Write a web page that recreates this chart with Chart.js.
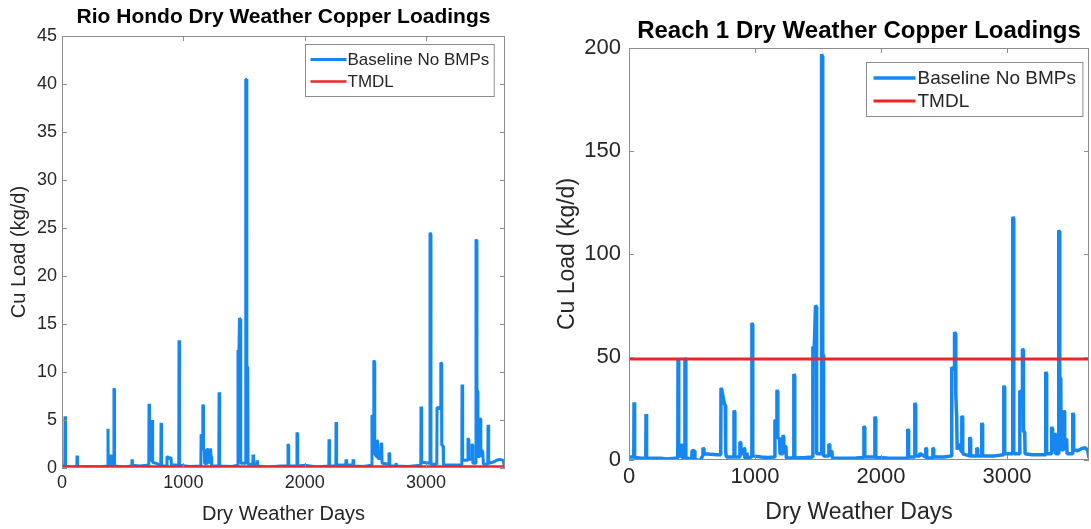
<!DOCTYPE html>
<html>
<head>
<meta charset="utf-8">
<title>Dry Weather Copper Loadings</title>
<script src="https://cdn.jsdelivr.net/npm/chart.js@4.4.1/dist/chart.umd.min.js"></script>
<style>
  html, body { margin: 0; padding: 0; background: #fff; overflow: hidden; }
  .panel { position: absolute; top: 0; height: 529px; }
  #rioPanel { left: 0; width: 512px; }
  #reachPanel { left: 540px; width: 551px; }
</style>
</head>
<body>
<div class="panel" id="rioPanel"><canvas id="rioChart"></canvas></div>
<div class="panel" id="reachPanel"><canvas id="reachChart"></canvas></div>
<script>
const dayRange = [0, 3650];
const dayTicks = [0, 1000, 2000, 3000];
const seriesNames = ['Baseline No BMPs', 'TMDL'];

// Rio Hondo, Cu load (kg/d)
const rioDays = [
    0, 23, 25, 28, 30, 60, 122, 124, 127, 129, 200, 290,
    377, 379, 381, 402, 404, 406, 426, 428, 431, 433, 500,
    575, 577, 580, 640, 700, 715, 717, 720, 723, 740, 742, 746, 748, 770,
    814, 816, 819, 821, 863, 865, 885, 898, 902, 962, 964, 968, 970, 1050,
    1144, 1146, 1158, 1160, 1164, 1166, 1172, 1175, 1193, 1195, 1203, 1206,
    1218, 1220, 1225, 1228, 1232, 1235, 1292, 1294, 1298, 1300, 1400,
    1448, 1450, 1458, 1462, 1470, 1473, 1512, 1514, 1520, 1523, 1530, 1533,
    1572, 1574, 1577, 1580, 1604, 1607, 1610, 1613, 1700, 1800,
    1860, 1862, 1865, 1868, 1934, 1936, 1939, 1942, 2000, 2100,
    2198, 2200, 2203, 2206, 2256, 2258, 2261, 2264, 2338, 2340, 2344, 2347,
    2396, 2398, 2402, 2405, 2480, 2552, 2554, 2566, 2569, 2574, 2577, 2590,
    2594, 2600, 2604, 2626, 2629, 2634, 2637, 2692, 2694, 2698, 2701,
    2750, 2752, 2755, 2850, 2956, 2958, 2962, 2965, 3030, 3032, 3037, 3040,
    3088, 3090, 3118, 3121, 3126, 3129, 3140, 3143, 3200,
    3294, 3296, 3300, 3303, 3343, 3345, 3349, 3352, 3376, 3378, 3382, 3385,
    3409, 3411, 3416, 3419, 3424, 3427, 3442, 3444, 3448, 3451, 3466, 3472,
    3508, 3510, 3514, 3517, 3550, 3580, 3610, 3635, 3645
];
const rioLoads = [
    0.2, 0.2, 5.4, 5.3, 0.2, 0.1, 0.1, 1.3, 1.2, 0.1, 0.15, 0.1,
    0.2, 4.1, 0.3, 0.3, 1.4, 0.3, 0.3, 8.3, 8.2, 0.2, 0.1,
    0.2, 0.9, 0.3, 0.2, 0.3, 0.3, 6.7, 6.6, 0.8, 0.8, 5.0, 5.0, 0.6, 0.5,
    0.3, 4.7, 4.6, 0.2, 0.2, 1.2, 1.0, 1.1, 0.3, 0.3, 13.3, 13.2, 0.3, 0.15,
    0.2, 3.5, 3.3, 6.6, 6.5, 1.9, 1.9, 0.5, 0.4, 2.0, 1.9, 0.6,
    0.6, 2.0, 1.9, 1.2, 1.1, 0.2, 0.2, 7.9, 7.8, 0.2, 0.15,
    0.3, 12.3, 12.3, 15.6, 15.5, 0.5, 0.5, 40.5, 40.5, 10.6, 10.5, 0.4,
    0.4, 1.4, 1.3, 0.3, 0.3, 0.8, 0.7, 0.2, 0.1, 0.2,
    0.2, 2.5, 2.4, 0.2, 0.2, 3.7, 3.6, 0.2, 0.3, 0.1,
    0.2, 3.0, 2.9, 0.2, 0.2, 4.8, 4.7, 0.3, 0.3, 0.9, 0.8, 0.3,
    0.3, 0.9, 0.8, 0.2, 0.15, 0.3, 5.5, 5.4, 11.2, 11.1, 1.5, 1.2,
    2.9, 2.8, 1.0, 1.0, 2.6, 2.5, 0.5, 0.4, 1.6, 1.5, 0.2,
    0.2, 0.5, 0.2, 0.15, 0.3, 6.4, 6.3, 0.6, 0.5, 24.5, 24.4, 0.4,
    0.4, 6.3, 6.2, 11.0, 10.9, 2.4, 2.3, 0.3, 0.3,
    0.3, 8.7, 8.6, 0.8, 0.8, 3.1, 3.0, 0.9, 0.9, 2.5, 2.4, 0.5,
    0.5, 23.8, 23.7, 8.2, 8.0, 1.2, 1.2, 5.2, 5.1, 1.8, 1.8, 0.4,
    0.4, 4.5, 4.4, 0.5, 0.6, 0.8, 0.9, 0.8, 0.2
];
const rioTmdl = 0.15;
const rioLoadTicks = [0, 5, 10, 15, 20, 25, 30, 35, 40, 45];

// Reach 1, Cu load (kg/d)
const reachDays = [
    0, 38, 40, 43, 46, 100, 133, 135, 138, 141, 250, 300,
    387, 389, 393, 396, 418, 420, 423, 425, 442, 444, 448, 451,
    498, 500, 520, 523, 560, 585, 587, 592, 595, 700,
    728, 730, 734, 758, 764, 767, 772, 831, 833, 837, 840,
    878, 880, 885, 888, 910, 912, 916, 919, 934, 936, 940,
    973, 975, 979, 982, 1050, 1100,
    1156, 1158, 1171, 1174, 1178, 1181, 1195, 1198, 1218, 1221, 1225, 1228, 1245, 1248,
    1306, 1308, 1312, 1315, 1400,
    1457, 1459, 1470, 1480, 1486, 1489, 1526, 1528, 1534, 1537, 1541, 1544,
    1584, 1586, 1590, 1593, 1610, 1613, 1700, 1800,
    1862, 1864, 1868, 1871, 1949, 1951, 1955, 1958, 2050, 2150,
    2210, 2212, 2216, 2219, 2266, 2268, 2272, 2275, 2306, 2308, 2312,
    2353, 2355, 2359, 2362, 2409, 2411, 2415, 2418, 2500,
    2559, 2561, 2580, 2583, 2589, 2593, 2600, 2604, 2615, 2638, 2641, 2645, 2648,
    2702, 2704, 2708, 2711, 2758, 2760, 2764, 2767, 2797, 2799, 2803, 2806, 2900,
    2972, 2974, 2978, 2981, 3043, 3045, 3050, 3053,
    3098, 3101, 3119, 3122, 3127, 3130, 3140, 3143, 3200,
    3305, 3307, 3311, 3314, 3352, 3354, 3358, 3361, 3375, 3378, 3382, 3385,
    3408, 3410, 3415, 3418, 3426, 3429, 3448, 3450, 3454, 3457, 3473, 3476,
    3519, 3521, 3525, 3528, 3560, 3590, 3620, 3640, 3650
];
const reachLoads = [
    1.5, 1.5, 28, 27.5, 1.2, 0.8, 1, 22.3, 22, 0.8, 0.8, 0.5,
    1, 49, 48.5, 2, 2, 8, 7, 1, 1, 49.5, 49, 1,
    0.5, 4.5, 4.5, 0.5, -0.5, 2, 6, 5.5, 3, 2.5,
    2.5, 35, 34.5, 27, 26.5, 4, 1.5, 1.5, 24, 23.5, 1.5,
    1.5, 8.7, 8.5, 3, 3, 6, 5.5, 1, 1, 3.5, 1,
    1.5, 66.5, 66, 2, 1.5, 1.2,
    1.5, 19.4, 19, 34, 33.5, 10.7, 10.5, 3, 3, 12, 11.5, 6.8, 6.5, 1,
    1, 41.7, 41.2, 1, 1.2,
    1.5, 55, 54.5, 75, 74.5, 3, 3, 197, 196, 52, 51, 2,
    2, 7.8, 7.5, 4.4, 4.2, 1, 0.8, 1,
    1.2, 16.5, 16, 1.5, 1.5, 21, 20.5, 1.2, 1, 0.8,
    1, 15, 14.5, 1.5, 1.5, 27.7, 27.2, 2, 2, 3.5, 3,
    1.5, 6, 5.5, 1, 1, 6, 5.5, 1.5, 1.5,
    2, 45, 44, 62, 61.5, 32, 21, 5, 8, 4, 21.4, 21, 3,
    2, 11, 10.5, 2, 2, 6, 5.5, 2, 2, 18, 17.5, 2, 2,
    2.5, 36, 35.5, 3, 3, 118, 117.5, 3,
    3, 33.5, 33, 54, 53.5, 14, 13.5, 3, 2.5,
    2.5, 42.7, 42.2, 3, 3, 16, 15.5, 5, 5, 13, 12.5, 3,
    3, 111.5, 111, 40, 39.5, 5, 5, 24, 23.5, 10, 10, 3,
    3, 22.8, 22.3, 5, 4.5, 5.5, 6, 4.5, 1
];
const reachTmdl = 49;
const reachLoadTicks = [0, 50, 100, 150, 200];

const fontFamily = "'Liberation Sans', Arial, Helvetica, sans-serif";
const blue = '#1687f0';
const red = '#e8262b';
const axisGrey = '#8c8c8c';
const labelInk = '#262626';

// MATLAB style box with inward ticks on all four sides
const framePlugin = {
    id: 'frame',
    afterDatasetsDraw(chart, args, opts) {
        const { ctx, chartArea: a, scales: { x, y } } = chart;
        ctx.save();
        ctx.strokeStyle = axisGrey;
        ctx.lineWidth = 1;
        ctx.strokeRect(a.left + 0.5, a.top + 0.5, a.width - 1, a.height - 1);
        ctx.beginPath();
        x.ticks.forEach(t => {
            const px = Math.round(x.getPixelForValue(t.value)) + 0.5;
            ctx.moveTo(px, a.bottom); ctx.lineTo(px, a.bottom - opts.tick);
            ctx.moveTo(px, a.top); ctx.lineTo(px, a.top + opts.tick);
        });
        y.ticks.forEach(t => {
            const py = Math.round(y.getPixelForValue(t.value)) + 0.5;
            ctx.moveTo(a.left, py); ctx.lineTo(a.left + opts.tick, py);
            ctx.moveTo(a.right, py); ctx.lineTo(a.right - opts.tick, py);
        });
        ctx.stroke();
        ctx.restore();
    }
};

// title centred over the axes, not the canvas
const titlePlugin = {
    id: 'panelTitle',
    afterDraw(chart, args, opts) {
        const { ctx, chartArea: a } = chart;
        ctx.save();
        ctx.font = `bold ${opts.size}px ${fontFamily}`;
        ctx.fillStyle = '#000';
        ctx.textAlign = 'center';
        ctx.textBaseline = 'middle';
        ctx.fillText(opts.text, (a.left + a.right) / 2 + opts.dx, opts.y);
        ctx.restore();
    }
};

// boxed legend inside the top right corner
const legendPlugin = {
    id: 'boxLegend',
    afterDraw(chart, args, opts) {
        const { ctx, chartArea: a } = chart;
        const items = chart.data.datasets;
        ctx.save();
        ctx.font = `${opts.size}px ${fontFamily}`;
        const textW = Math.max(...items.map(d => ctx.measureText(d.label).width));
        const w = opts.pad + opts.line + opts.gap + textW + opts.pad;
        const h = opts.padY * 2 + opts.rowH * items.length;
        const left = Math.round(a.right - opts.right - w) + 0.5;
        const top = Math.round(a.top + opts.top) + 0.5;
        ctx.fillStyle = '#fff';
        ctx.fillRect(left, top, w, h);
        ctx.strokeStyle = axisGrey;
        ctx.lineWidth = 1;
        ctx.strokeRect(left, top, w, h);
        items.forEach((d, i) => {
            const cy = top + opts.padY + opts.rowH * (i + 0.5);
            ctx.strokeStyle = d.borderColor;
            ctx.lineWidth = d.borderWidth;
            ctx.beginPath();
            ctx.moveTo(left + opts.pad, cy);
            ctx.lineTo(left + opts.pad + opts.line, cy);
            ctx.stroke();
            ctx.fillStyle = labelInk;
            ctx.textBaseline = 'middle';
            ctx.fillText(d.label, left + opts.pad + opts.line + opts.gap, cy + 1);
        });
        ctx.restore();
    }
};

function makePanel(canvasId, cfg) {
    const points = cfg.days.map((d, i) => ({ x: d, y: cfg.loads[i] }));
    const tmdlLine = dayRange.map(d => ({ x: d, y: cfg.tmdl }));
    return new Chart(document.getElementById(canvasId), {
        type: 'line',
        data: {
            datasets: [{
                label: seriesNames[0],
                data: points,
                borderColor: blue,
                borderWidth: cfg.blueWidth,
                borderJoinStyle: 'bevel',
                pointRadius: 0,
                tension: 0,
                order: 1
            }, {
                label: seriesNames[1],
                data: tmdlLine,
                borderColor: red,
                borderWidth: cfg.redWidth,
                pointRadius: 0,
                order: 0
            }]
        },
        options: {
            responsive: true,
            maintainAspectRatio: false,
            animation: false,
            events: [],
            layout: { padding: cfg.padding },
            plugins: {
                legend: { display: false },
                tooltip: { enabled: false },
                panelTitle: cfg.title,
                boxLegend: cfg.legend,
                frame: { tick: 5 }
            },
            scales: {
                x: {
                    type: 'linear',
                    min: dayRange[0],
                    max: dayRange[1],
                    afterBuildTicks: s => { s.ticks = dayTicks.map(v => ({ value: v })); },
                    afterFit: s => { s.height = cfg.xHeight; },
                    grid: { display: false, drawTicks: false },
                    border: { display: false },
                    ticks: {
                        color: labelInk,
                        font: { family: fontFamily, size: cfg.tickSize },
                        padding: cfg.xTickPad,
                        maxRotation: 0,
                        autoSkip: false,
                        callback: v => String(v)
                    },
                    title: {
                        display: true,
                        text: 'Dry Weather Days',
                        color: labelInk,
                        font: { family: fontFamily, size: cfg.labelSize },
                        padding: { top: 0, bottom: cfg.xTitlePad }
                    }
                },
                y: {
                    min: 0,
                    max: cfg.yTicks[cfg.yTicks.length - 1],
                    afterBuildTicks: s => { s.ticks = cfg.yTicks.map(v => ({ value: v })); },
                    afterFit: s => { s.width = cfg.yWidth; },
                    grid: { display: false, drawTicks: false },
                    border: { display: false },
                    ticks: {
                        color: labelInk,
                        font: { family: fontFamily, size: cfg.tickSize },
                        padding: cfg.yTickPad,
                        callback: v => String(v)
                    },
                    title: {
                        display: true,
                        text: 'Cu Load (kg/d)',
                        color: labelInk,
                        font: { family: fontFamily, size: cfg.labelSize },
                        padding: { top: cfg.yTitlePad, bottom: 0 }
                    }
                }
            }
        },
        plugins: [framePlugin, titlePlugin, legendPlugin]
    });
}

makePanel('rioChart', {
    days: rioDays,
    loads: rioLoads,
    tmdl: rioTmdl,
    yTicks: rioLoadTicks,
    blueWidth: 3,
    redWidth: 2.5,
    padding: { left: 0, right: 7, top: 36, bottom: 0 },
    xHeight: 61,
    yWidth: 62,
    tickSize: 18,
    labelSize: 20,
    xTickPad: 4,
    yTickPad: 5,
    xTitlePad: 3,
    yTitlePad: 7,
    title: { text: 'Rio Hondo Dry Weather Copper Loadings', size: 21, y: 17, dx: 0 },
    legend: { size: 17, right: 11, top: 8, pad: 5, line: 36, gap: 1, padY: 4, rowH: 22 }
});

makePanel('reachChart', {
    days: reachDays,
    loads: reachLoads,
    tmdl: reachTmdl,
    yTicks: reachLoadTicks,
    blueWidth: 3.5,
    redWidth: 3,
    padding: { left: 0, right: 2, top: 48, bottom: 0 },
    xHeight: 69,
    yWidth: 89,
    tickSize: 22,
    labelSize: 23,
    xTickPad: 4,
    yTickPad: 8,
    xTitlePad: 3,
    yTitlePad: 14,
    title: { text: 'Reach 1 Dry Weather Copper Loadings', size: 24, y: 31, dx: 0 },
    legend: { size: 19, right: 7, top: 14, pad: 7, line: 42, gap: 2, padY: 4, rowH: 23 }
});
</script>
</body>
</html>
